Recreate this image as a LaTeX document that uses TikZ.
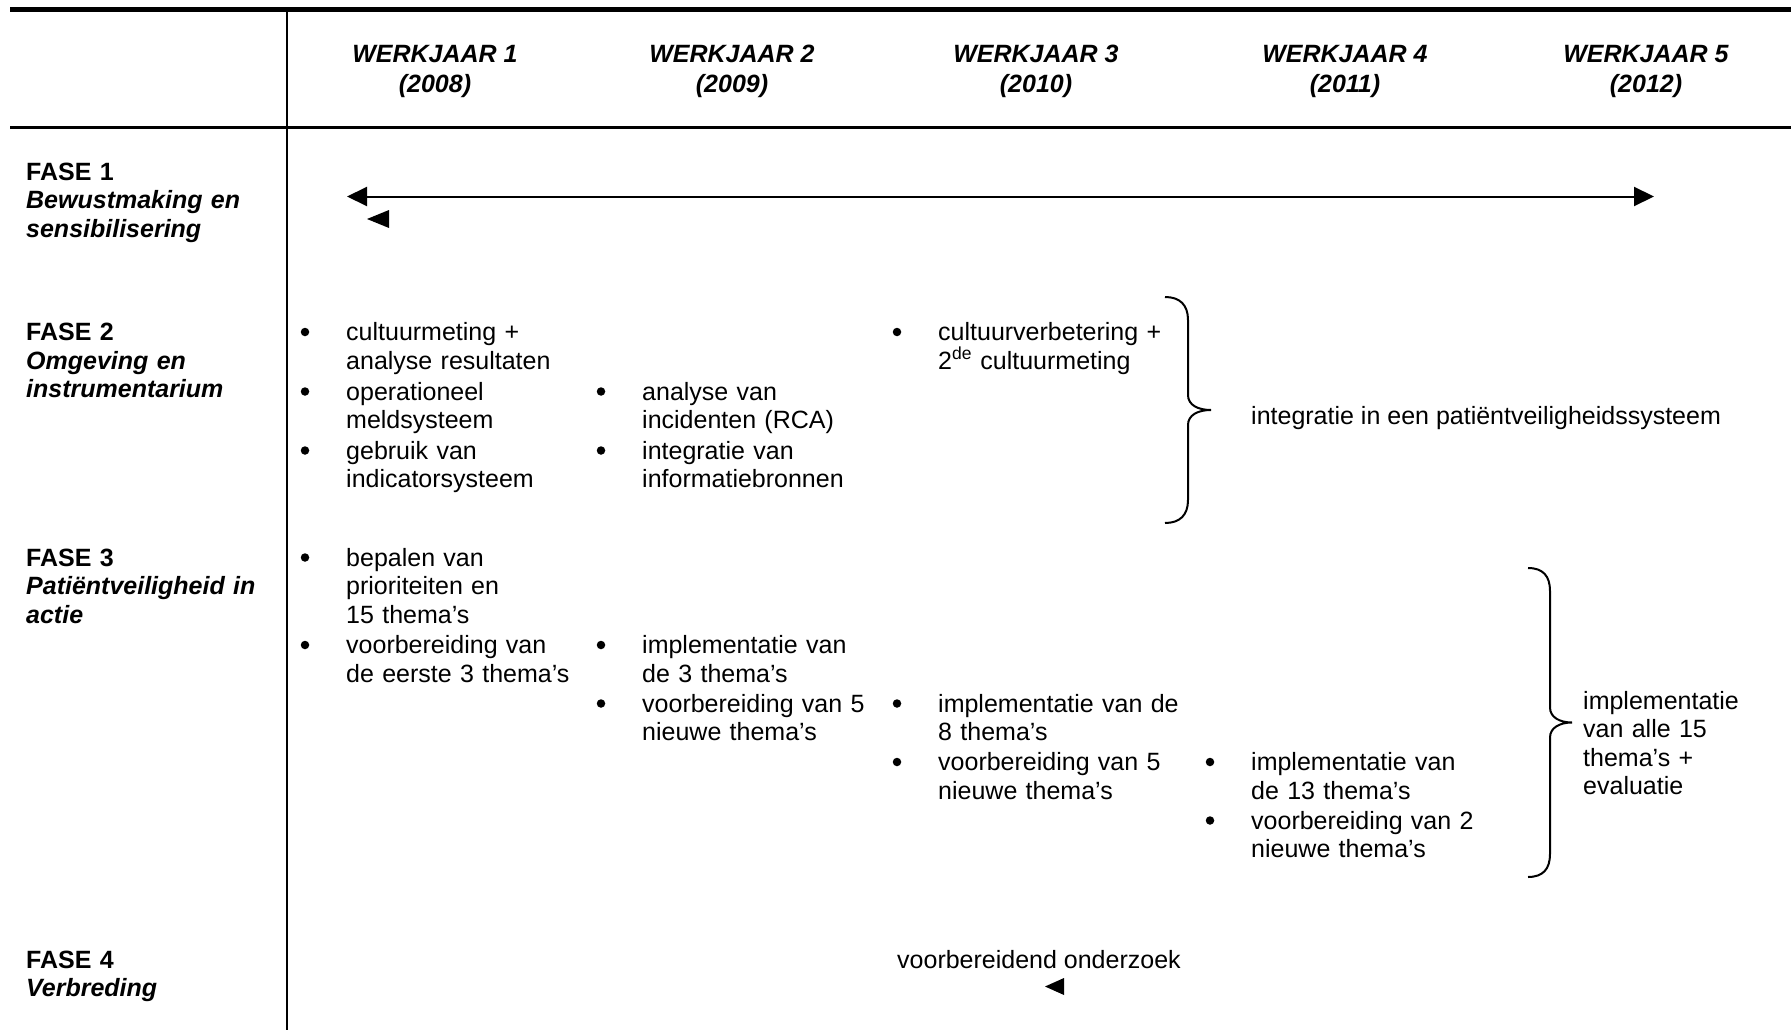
\documentclass[tikz,border=0pt]{standalone}
\usepackage{fontspec}
\setmainfont{Liberation Sans}
\usetikzlibrary{arrows.meta}

\begin{document}
\begin{tikzpicture}[x=1pt,y=-1pt,>={Triangle[length=20pt,width=19pt]},
    every node/.style={inner sep=0pt,font=\fontsize{25}{28.5}\selectfont},
    hdr/.style={anchor=base,font=\fontsize{25}{28.5}\selectfont\bfseries\itshape},
    fase/.style={anchor=base west,align=left,text width=400pt,font=\fontsize{25}{28.5}\selectfont\bfseries},
    itm/.style={anchor=base west,align=left,text width=400pt},
    txt/.style={anchor=base west},
    blt/.style={circle,fill,minimum size=8.5pt,xshift=-41pt,yshift=8.5pt},
    brc/.style={line width=2pt}]
    \useasboundingbox (0,0) rectangle (1791,1030);
    \draw[line width=4.5pt] (10,9.5)--(1791,9.5);
    \draw[line width=3pt] (10,128)--(1791,128);
    \draw[line width=2.5pt] (287,9.5)--(287,1030);
    \foreach \i/\x/\yr in {1/435/2008,2/732/2009,3/1036/2010,4/1345/2011,5/1646/2012}{
      \node[hdr] (w\i) at (\x,62.7) {WERKJAAR \i};
      \node[hdr] (j\i) at (\x,92.4) {(\yr)};}
    \node[fase] (f1) at (26,180) {FASE 1\\\itshape Bewustmaking en\\sensibilisering};
    \node[fase] (f2) at (26,340.5) {FASE 2\\\itshape Omgeving en\\instrumentarium};
    \node[fase] (f3) at (26,566) {FASE 3\\\itshape Patiëntveiligheid in\\actie};
    \node[fase] (f4) at (26,968) {FASE 4\\\itshape Verbreding};
    % fase 1
    \coordinate (a1) at (347,196.5);
    \coordinate (a2) at (1654,196.5);
    \draw[<->,line width=2pt] (a1)--(a2);
    \fill (367,219)--(389,210)--(389,228)--cycle;
    % fase 2
    \node[itm] (c1a) at (346,340.5) {cultuurmeting +\\analyse resultaten};
    \node[itm] (c1b) at (346,400) {operationeel\\meldsysteem};
    \node[itm] (c1c) at (346,459) {gebruik van\\indicatorsysteem};
    \node[itm] (c2a) at (642,400) {analyse van\\incidenten (RCA)};
    \node[itm] (c2b) at (642,459) {integratie van\\informatiebronnen};
    \node[itm] (c3a) at (938,340.5) {cultuurverbetering +\\2\textsuperscript{de} cultuurmeting};
    \draw[brc] (1165,297) .. controls (1180,297) and (1188,305) .. (1188,320) -- (1188,395)
      .. controls (1188,405) and (1198,410) .. (1211,410) .. controls (1198,410) and (1188,415) .. (1188,425)
      -- (1188,500) .. controls (1188,515) and (1180,523) .. (1165,523);
    \node[txt] (int) at (1251,424) {integratie in een patiëntveiligheidssysteem};
    % fase 3
    \node[itm] (d1a) at (346,566) {bepalen van\\prioriteiten en\\15 thema’s};
    \node[itm] (d1b) at (346,653.5) {voorbereiding van\\de eerste 3 thema’s};
    \node[itm] (d2a) at (642,653.5) {implementatie van\\de 3 thema’s};
    \node[itm] (d2b) at (642,712) {voorbereiding van 5\\nieuwe thema’s};
    \node[itm] (d3a) at (938,712) {implementatie van de\\8 thema’s};
    \node[itm] (d3b) at (938,770.5) {voorbereiding van 5\\nieuwe thema’s};
    \node[itm] (d4a) at (1251,770.5) {implementatie van\\de 13 thema’s};
    \node[itm] (d4b) at (1251,829) {voorbereiding van 2\\nieuwe thema’s};
    \draw[brc] (1528,568) .. controls (1543,568) and (1550,576) .. (1550,591) -- (1550,707.5)
      .. controls (1550,717.5) and (1560,722.5) .. (1572,722.5) .. controls (1560,722.5) and (1550,727.5) .. (1550,737.5)
      -- (1550,854) .. controls (1550,869) and (1543,877) .. (1528,877);
    \node[itm] (all) at (1583,709) {implementatie\\van alle 15\\thema’s +\\evaluatie};
    \foreach \n in {c1a,c1b,c1c,c2a,c2b,c3a,d1a,d1b,d2a,d2b,d3a,d3b,d4a,d4b}
      \node[blt] (b\n) at (\n.base west) {};
    % fase 4
    \node[txt] (vo) at (897,968) {voorbereidend onderzoek};
    \fill (1045,986.5)--(1064,978)--(1064,995)--cycle;
\end{tikzpicture}
\end{document}
